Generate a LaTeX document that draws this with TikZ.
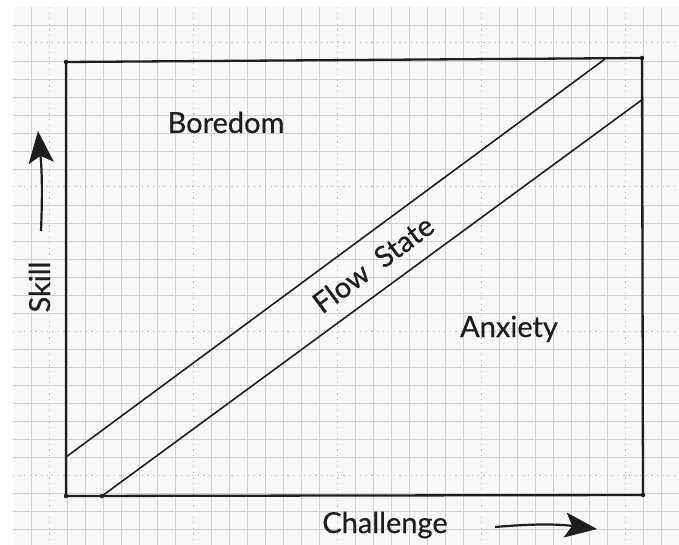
\documentclass[tikz,border=0pt]{standalone}
\usepackage{fontspec}
\setmainfont{Lato}
\newfontfamily\labelfont{Lato}[FakeBold=0.4]
\usetikzlibrary{arrows.meta}

\definecolor{ink}{HTML}{1E1E1E}
\definecolor{paper}{HTML}{F8F8F8}
\definecolor{paperline}{HTML}{D0D0D0}
\definecolor{paperdot}{HTML}{B4B4B4}

\begin{document}
\begin{tikzpicture}[x=1pt,y=-1pt,
    gridline/.style={paperline, line width=0.9pt},
    gridmajor/.style={paperdot, line width=1pt, dash pattern=on 1.2pt off 4.4pt},
    dot/.style={circle, fill=ink, inner sep=0pt, minimum size=4.5pt},
    frame/.style={ink, line width=2.3pt, line join=round},
    band/.style={ink, line width=1.6pt},
    hand/.style={ink, line width=2.2pt, -{Stealth[length=32pt,width=25pt,inset=7pt]}},
    lbl/.style={text=ink, font=\labelfont\fontsize{29}{32}\selectfont, inner sep=0pt}]

	%---PAPER---
	\useasboundingbox[fill=white] (0,0) rectangle (679,545);
	\fill[paper] (13,7) rectangle (679,545);
	\foreach \k in {1,...,36} {
	  \pgfmathtruncatemacro{\m}{mod(\k,8)}
	  \ifnum\m=2
	    \draw[gridmajor] (13+18*\k,7) -- (13+18*\k,545);
	  \else
	    \draw[gridline] (13+18*\k,7) -- (13+18*\k,545);
	  \fi
	}
	\foreach \k in {1,...,29} {
	  \pgfmathtruncatemacro{\m}{mod(\k,8)}
	  \ifnum\m=2
	    \draw[gridmajor] (13,7+18*\k) -- (679,7+18*\k);
	  \else
	    \draw[gridline] (13,7+18*\k) -- (679,7+18*\k);
	  \fi
	}

	%---NODES---
	\node[dot] (tl) at (66,62) {};
	\node[dot] (tr) at (642,58) {};
	\node[dot] (br) at (643,495) {};
	\node[dot] (bl) at (66,496) {};
	\node[dot] (lo0) at (102,496) {};
	\coordinate (up0) at (66,457);
	\coordinate (up1) at (605,59);
	\coordinate (lo1) at (643,99);

	%---EDGES---
	\draw[frame] (tl.center) -- (tr.center) -- (br.center) -- (bl.center) -- cycle;
	\draw[band] (up0) -- (up1);
	\draw[band] (lo0.center) -- (lo1);

	%---ARROWS---
	\coordinate (skillfoot) at (41,231);
	\coordinate (skilltip) at (38,131);
	\coordinate (challfoot) at (495,527);
	\coordinate (challtip) at (597,529);
	\draw[hand] (skillfoot) to[bend right=4] (skilltip);
	\draw[hand] (challfoot) to[bend left=6] (challtip);

	%---LABELS---
	\node[lbl, anchor=base] (boredom) at (226,133) {Boredom};
	\node[lbl, anchor=base] (anxiety) at (509,337) {Anxiety};
	\node[lbl, anchor=base] (challenge) at (385,533) {Challenge};
	\node[lbl, anchor=base, rotate=90] (skill) at (50,287) {Skill};
	\node[lbl, rotate=36.5] (flow) at (373,264) {Flow\hspace{0.5em}State};

\end{tikzpicture}
\end{document}
